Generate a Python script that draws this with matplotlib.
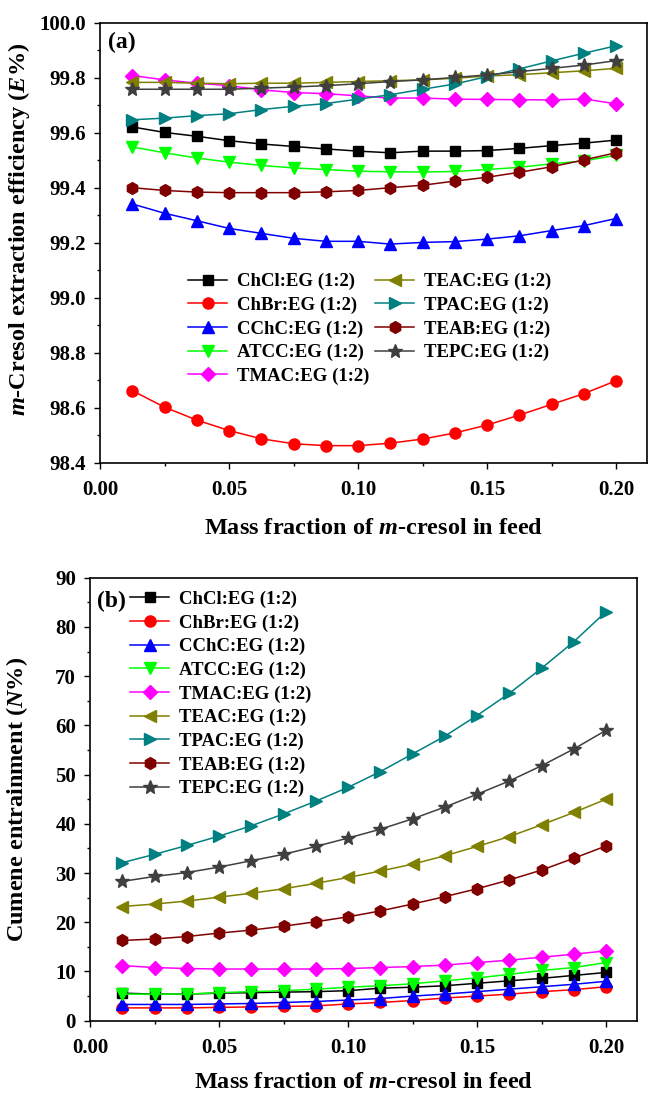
import matplotlib
matplotlib.use("Agg")
import matplotlib.pyplot as plt
from matplotlib.ticker import MultipleLocator, FormatStrFormatter

plt.rcParams['font.family'] = ['Liberation Serif', 'DejaVu Serif']
plt.rcParams['font.weight'] = 'bold'
plt.rcParams['mathtext.fontset'] = 'custom'
plt.rcParams['mathtext.rm'] = 'Liberation Serif:bold'
plt.rcParams['mathtext.it'] = 'Liberation Serif:italic:bold'
plt.rcParams['mathtext.bf'] = 'Liberation Serif:bold'

x = [0.0125, 0.025, 0.0375, 0.05, 0.0625, 0.075, 0.0875, 0.1,
     0.1125, 0.125, 0.1375, 0.15, 0.1625, 0.175, 0.1875, 0.2]

names = ["ChCl:EG (1:2)", "ChBr:EG (1:2)", "CChC:EG (1:2)", "ATCC:EG (1:2)",
         "TMAC:EG (1:2)", "TEAC:EG (1:2)", "TPAC:EG (1:2)", "TEAB:EG (1:2)",
         "TEPC:EG (1:2)"]
colors = ["#000000", "#FF0000", "#0000FF", "#00FF00", "#FF00FF",
          "#808000", "#008080", "#800000", "#3F3F3F"]
markers = ["s", "o", "^", "v", "D", "<", ">", "h", "*"]
msizes = [7, 8, 8.5, 8.5, 7, 8.5, 8.5, 8.5, 10.5]

# Panel (a): m-cresol extraction efficiency E%
E_ChCl = [99.621, 99.601, 99.587, 99.571, 99.559, 99.550, 99.541, 99.533,
          99.527, 99.533, 99.533, 99.535, 99.543, 99.553, 99.562, 99.573]
E_ChBr = [98.662, 98.602, 98.555, 98.517, 98.487, 98.469, 98.462, 98.462,
          98.471, 98.486, 98.508, 98.537, 98.573, 98.612, 98.651, 98.698]
E_CChC = [99.341, 99.307, 99.280, 99.252, 99.234, 99.216, 99.205, 99.205,
          99.195, 99.201, 99.204, 99.213, 99.225, 99.244, 99.262, 99.288]
E_ATCC = [99.548, 99.527, 99.508, 99.493, 99.481, 99.472, 99.466, 99.460,
          99.458, 99.457, 99.459, 99.466, 99.474, 99.487, 99.497, 99.518]
E_TMAC = [99.808, 99.792, 99.780, 99.771, 99.756, 99.746, 99.742, 99.734,
          99.726, 99.726, 99.722, 99.721, 99.720, 99.719, 99.723, 99.705]
E_TEAC = [99.783, 99.783, 99.780, 99.778, 99.780, 99.780, 99.783, 99.786,
          99.789, 99.792, 99.798, 99.806, 99.811, 99.818, 99.825, 99.834]
E_TPAC = [99.647, 99.653, 99.662, 99.669, 99.684, 99.696, 99.706, 99.722,
          99.738, 99.758, 99.777, 99.804, 99.832, 99.861, 99.889, 99.916]
E_TEAB = [99.400, 99.390, 99.384, 99.382, 99.382, 99.382, 99.385, 99.390,
          99.400, 99.409, 99.424, 99.438, 99.456, 99.476, 99.501, 99.527]
E_TEPC = [99.758, 99.758, 99.758, 99.758, 99.762, 99.766, 99.771, 99.778,
          99.786, 99.792, 99.801, 99.810, 99.822, 99.834, 99.846, 99.862]

# Panel (b): cumene entrainment N%
N_ChCl = [5.6, 5.4, 5.4, 5.6, 5.7, 5.8, 5.9, 6.1, 6.6, 6.8, 7.1, 7.6,
          8.1, 8.6, 9.2, 9.8]
N_ChBr = [2.6, 2.6, 2.6, 2.7, 2.8, 2.9, 3.0, 3.4, 3.7, 4.1, 4.6, 5.0,
          5.4, 5.9, 6.3, 6.9]
N_CChC = [3.3, 3.3, 3.3, 3.4, 3.5, 3.7, 3.9, 4.2, 4.5, 5.0, 5.4, 5.9,
          6.4, 6.9, 7.4, 8.0]
N_ATCC = [5.4, 5.4, 5.4, 5.7, 5.9, 6.1, 6.4, 6.8, 7.1, 7.5, 8.1, 8.7,
          9.4, 10.2, 10.8, 11.8]
N_TMAC = [11.2, 10.8, 10.6, 10.5, 10.5, 10.5, 10.5, 10.6, 10.8, 11.0,
          11.3, 11.8, 12.3, 12.9, 13.5, 14.2]
N_TEAC = [23.2, 23.7, 24.3, 25.1, 25.9, 26.8, 27.9, 29.1, 30.4, 31.8,
          33.5, 35.4, 37.4, 39.8, 42.3, 45.0]
N_TPAC = [32.1, 33.8, 35.6, 37.5, 39.6, 42.0, 44.6, 47.4, 50.6, 54.2,
          57.8, 62.0, 66.5, 71.6, 77.0, 83.1]
N_TEAB = [16.3, 16.6, 17.1, 17.8, 18.4, 19.2, 20.1, 21.1, 22.3, 23.7,
          25.2, 26.8, 28.6, 30.6, 33.0, 35.5]
N_TEPC = [28.3, 29.3, 30.1, 31.2, 32.5, 33.8, 35.4, 37.1, 38.9, 41.0,
          43.4, 46.0, 48.7, 51.8, 55.2, 59.0]

E_all = [E_ChCl, E_ChBr, E_CChC, E_ATCC, E_TMAC, E_TEAC, E_TPAC, E_TEAB, E_TEPC]
N_all = [N_ChCl, N_ChBr, N_CChC, N_ATCC, N_TMAC, N_TEAC, N_TPAC, N_TEAB, N_TEPC]

W, H = 648, 1093
fig = plt.figure(figsize=(W / 100, H / 100), dpi=100)
ax1 = fig.add_axes([100 / W, 1 - 462.7 / H, 547 / W, 440 / H])
ax2 = fig.add_axes([90 / W, 1 - 1020.7 / H, 547 / W, 443 / H])

for ys_all, ax in ((E_all, ax1), (N_all, ax2)):
    for ys, nm, c, m, ms in zip(ys_all, names, colors, markers, msizes):
        ax.plot(x, ys, color=c, marker=m, markersize=ms, lw=1.1,
                markeredgecolor=c, markerfacecolor=c, label=nm)

tick_fs = 15
lab_fs = 17.5
for ax in (ax1, ax2):
    ax.set_xlim(0, 0.212)
    ax.xaxis.set_major_locator(MultipleLocator(0.05))
    ax.xaxis.set_minor_locator(MultipleLocator(0.025))
    ax.xaxis.set_major_formatter(FormatStrFormatter('%.2f'))
    ax.tick_params(which='major', direction='out', length=4.5, width=1.0,
                   labelsize=tick_fs, top=False, right=False)
    ax.tick_params(which='minor', direction='out', length=2.5, width=1.0,
                   top=False, right=False)
    ax.tick_params(axis='x', which='major', pad=8)
    ax.tick_params(axis='y', which='major', pad=5.5)
    for sp in ax.spines.values():
        sp.set_linewidth(1.2)
    for lbl in ax.get_xticklabels() + ax.get_yticklabels():
        lbl.set_fontweight('bold')

ax1.set_xlabel(r'Mass fraction of $m$-cresol in feed', fontsize=lab_fs,
               fontweight='bold', labelpad=13)
ax2.set_xlabel(r'Mass fraction of $m$-cresol in feed', fontsize=lab_fs,
               fontweight='bold', labelpad=10)

ax1.set_ylim(98.4, 100.0)
ax1.yaxis.set_major_locator(MultipleLocator(0.2))
ax1.yaxis.set_minor_locator(MultipleLocator(0.1))
ax1.yaxis.set_major_formatter(FormatStrFormatter('%.1f'))
ax1.set_ylabel(r'$m$-Cresol extraction efficiency ($E$%)', fontsize=lab_fs,
               fontweight='bold')
ax1.yaxis.set_label_coords(-0.124, 0.53)

ax2.set_ylim(0, 90)
ax2.yaxis.set_major_locator(MultipleLocator(10))
ax2.yaxis.set_minor_locator(MultipleLocator(5))
ax2.set_ylabel(r'Cumene entrainment ($N$%)', fontsize=lab_fs,
               fontweight='bold')
ax2.yaxis.set_label_coords(-0.11, 0.5)

ax1.text(0.014, 0.954, '(a)', transform=ax1.transAxes, fontsize=17,
         fontweight='bold', va='center', ha='left')
ax2.text(0.012, 0.947, '(b)', transform=ax2.transAxes, fontsize=17,
         fontweight='bold', va='center', ha='left')

leg_kw = dict(frameon=False, handlelength=2.1, handletextpad=0.5,
              borderpad=0, borderaxespad=0, labelspacing=0.34,
              prop={'weight': 'bold', 'size': 13.5})
ax1.legend(ncol=2, loc='upper left', bbox_to_anchor=(0.161, 0.431),
           columnspacing=0.3, **leg_kw)
ax2.legend(ncol=1, loc='upper left', bbox_to_anchor=(0.073, 0.971), **leg_kw)

fig.savefig('out.png', dpi=100)
